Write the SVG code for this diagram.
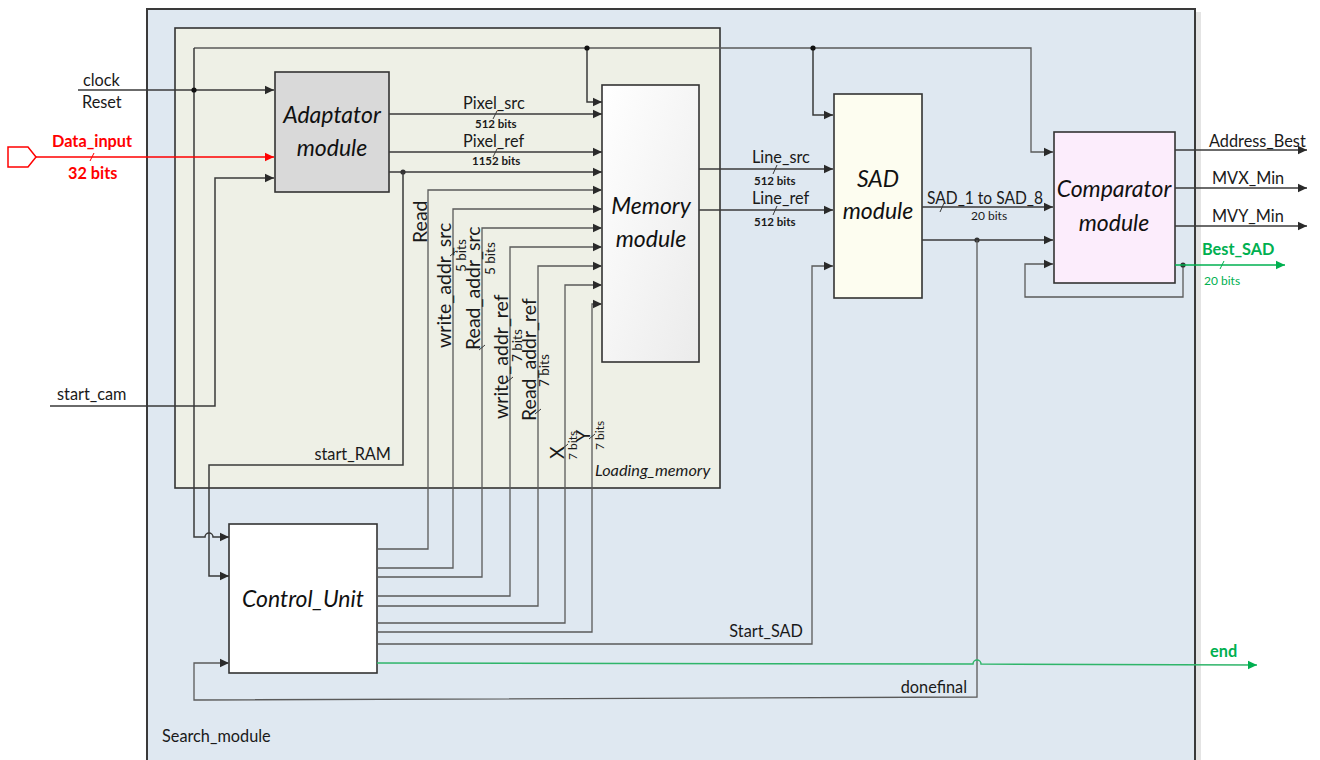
<svg xmlns="http://www.w3.org/2000/svg" width="1320" height="760" viewBox="0 0 1320 760">
<style>
.ln{stroke:#3a3a3a;stroke-width:1.5;fill:none}
.cl{stroke:#5a5a5a;stroke-width:1.3;fill:none}
.tk{stroke:#3a3a3a;stroke-width:1;fill:none}
.box{stroke:#333;stroke-width:1.6}
.t{font-family:Lato,"Liberation Sans",sans-serif;font-size:16.3px;fill:#1a1a1a}
.m{font-family:Lato,"Liberation Sans",sans-serif;font-size:23px;font-style:italic;fill:#111;text-anchor:middle}
.sb{font-family:Lato,"Liberation Sans",sans-serif;font-size:11.5px;font-weight:bold;fill:#1a1a1a}
.sm{font-family:Lato,"Liberation Sans",sans-serif;font-size:12px;fill:#1a1a1a}
.sr{font-family:Lato,"Liberation Sans",sans-serif;font-size:13.5px;fill:#1a1a1a}
.r{font-family:Lato,"Liberation Sans",sans-serif;font-size:19.5px;fill:#1a1a1a}
.red{fill:#ff0000;font-weight:bold}
.grn{fill:#00b050}
</style>
<defs>
<marker id="a" markerUnits="userSpaceOnUse" markerWidth="10" markerHeight="10" refX="9" refY="5" orient="auto"><path d="M0,0.8 L9,5 L0,9.2 z" fill="#2a2a2a"/></marker>
<marker id="ar" markerUnits="userSpaceOnUse" markerWidth="10" markerHeight="10" refX="9" refY="5" orient="auto"><path d="M0,0.8 L9,5 L0,9.2 z" fill="#ff0000"/></marker>
<marker id="ag" markerUnits="userSpaceOnUse" markerWidth="10" markerHeight="10" refX="9" refY="5" orient="auto"><path d="M0,0.8 L9,5 L0,9.2 z" fill="#00b050"/></marker>
<linearGradient id="mg" x1="0" y1="0" x2="1" y2="1"><stop offset="0" stop-color="#ffffff"/><stop offset="1" stop-color="#ebebeb"/></linearGradient>
</defs>
<rect width="1320" height="760" fill="#ffffff"/>
<g id="search_module">
<rect x="1196" y="12" width="5" height="760" fill="#e4e4e4"/>
<rect x="147" y="9" width="1048" height="760" fill="#dfe8f1" stroke="#3a3a3a" stroke-width="2"/>
<text class="t" x="162" y="742">Search_module</text>
</g>
<g id="loading_memory">
<rect x="175" y="28" width="545" height="460" fill="#eef0e6" stroke="#333" stroke-width="1.6"/>
<text class="t" x="595" y="476" font-style="italic">Loading_memory</text>
</g>
<g id="adaptator">
<rect class="box" x="275" y="72" width="114" height="120" fill="#d9d9d9"/>
<text class="m" x="332" y="123">Adaptator</text>
<text class="m" x="332" y="156">module</text>
</g>
<g id="memory">
<rect class="box" x="602" y="85" width="97" height="277" fill="url(#mg)"/>
<text class="m" x="651" y="214">Memory</text>
<text class="m" x="651" y="247">module</text>
</g>
<g id="sad">
<rect class="box" x="834" y="94" width="88" height="204" fill="#fdfdf0"/>
<text class="m" x="878" y="187">SAD</text>
<text class="m" x="878" y="219">module</text>
</g>
<g id="comparator">
<rect class="box" x="1054" y="132" width="121" height="151" fill="#fcedfc"/>
<text class="m" x="1114" y="197">Comparator</text>
<text class="m" x="1114" y="231">module</text>
</g>
<g id="control_unit">
<rect class="box" x="229" y="524" width="148" height="149" fill="#ffffff"/>
<text class="m" x="303" y="607" font-size="24">Control_Unit</text>
</g>
<g id="connectors">
<path class="ln" d="M78,90 H274" marker-end="url(#a)"/>
<path class="cl" d="M194,48 H1031 V152 H1053" marker-end="url(#a)"/>
<path class="ln" d="M194,48 V537 H205 A4,4 0 0 1 213,537 H229" marker-end="url(#a)"/>
<path class="ln" d="M587,48 V102 H602" marker-end="url(#a)"/>
<path class="ln" d="M813,48 V115 H833" marker-end="url(#a)"/>
<circle cx="194" cy="90" r="2.6" fill="#111"/>
<circle cx="587" cy="48" r="2.6" fill="#111"/>
<circle cx="813" cy="48" r="2.6" fill="#111"/>
<polygon points="8,147 28,147 36,157 28,167 8,167" fill="#ffffff" stroke="#ff0000" stroke-width="1.5"/>
<path d="M36,157 H274" stroke="#ff0000" stroke-width="1.5" fill="none" marker-end="url(#ar)"/>
<path d="M90,161 L94,153" stroke="#ff0000" stroke-width="1"/>
<path class="ln" d="M50,406 H215 V178 H274" marker-end="url(#a)"/>
<path class="ln" d="M389,114 H602" marker-end="url(#a)"/>
<path class="ln" d="M389,152 H602" marker-end="url(#a)"/>
<path class="ln" d="M389,172 H602" marker-end="url(#a)"/>
<circle cx="403" cy="172" r="2.6" fill="#333"/>
<path class="ln" d="M403,172 V465 H209 V576 H229" marker-end="url(#a)"/>
<path class="tk" d="M493,119 L497,111"/>
<path class="tk" d="M493,157 L497,149"/>
<path class="cl" d="M377,549 H428 V190 H602" marker-end="url(#a)"/>
<path class="cl" d="M377,568 H453 V209 H602" marker-end="url(#a)"/>
<path class="cl" d="M377,577 H482 V228 H602" marker-end="url(#a)"/>
<path class="cl" d="M377,596 H510 V247 H602" marker-end="url(#a)"/>
<path class="cl" d="M377,606 H538 V266 H602" marker-end="url(#a)"/>
<path class="cl" d="M377,623 H565 V285 H602" marker-end="url(#a)"/>
<path class="cl" d="M377,632 H592 V304 H602" marker-end="url(#a)"/>
<path class="tk" d="M450,256 L456,251"/>
<path class="tk" d="M479,350 L485,345"/>
<path class="tk" d="M507,382 L513,377"/>
<path class="tk" d="M535,414 L541,409"/>
<path class="tk" d="M562,449 L568,444"/>
<path class="tk" d="M589,439 L595,434"/>
<path class="cl" d="M377,644 H812 V266 H833" marker-end="url(#a)"/>
<path class="ln" d="M699,169 H833" marker-end="url(#a)"/>
<path class="ln" d="M699,210 H833" marker-end="url(#a)"/>
<path class="tk" d="M773,174 L777,165"/>
<path class="tk" d="M773,215 L777,206"/>
<path class="ln" d="M922,207 H1053" marker-end="url(#a)"/>
<path class="tk" d="M940,212 L944,203"/>
<path class="ln" d="M922,240 H1053" marker-end="url(#a)"/>
<circle cx="977" cy="240" r="2.6" fill="#333"/>
<path class="cl" d="M977,240 V697 L194,700 V663 H229" marker-end="url(#a)"/>
<path class="cl" d="M1183,265 V297 H1025 V264 H1053" marker-end="url(#a)"/>
<circle cx="1183" cy="265" r="2.6" fill="#333"/>
<path class="ln" d="M1175,150 H1307" marker-end="url(#a)"/>
<path class="ln" d="M1175,188 H1307" marker-end="url(#a)"/>
<path class="ln" d="M1175,226 H1307" marker-end="url(#a)"/>
<path d="M1175,265 H1285" stroke="#00b050" stroke-width="1.5" fill="none" marker-end="url(#ag)"/>
<path d="M1220,269 L1224,261" stroke="#00b050" stroke-width="1"/>
<path d="M377,663 L973,664 A4,4 0 0 1 981,664 L1257,665" stroke="#2fb56a" stroke-width="1.5" fill="none" marker-end="url(#ag)"/>
</g>
<g id="labels">
<text class="t" x="83" y="86">clock</text>
<text class="t" x="82" y="108">Reset</text>
<text class="t red" x="52" y="147">Data_input</text>
<text class="t red" x="68" y="179">32 bits</text>
<text class="t" x="57" y="400">start_cam</text>
<text class="t" x="463" y="109">Pixel_src</text>
<text class="sb" x="475" y="128">512 bits</text>
<text class="t" x="463" y="147">Pixel_ref</text>
<text class="sb" x="472" y="165">1152 bits</text>
<text class="t" x="391" y="460" text-anchor="end">start_RAM</text>
<text class="t" x="803" y="637" text-anchor="end">Start_SAD</text>
<text class="t" x="967" y="693" text-anchor="end">donefinal</text>
<text class="t" x="752" y="163">Line_src</text>
<text class="sb" x="754" y="185">512 bits</text>
<text class="t" x="752" y="204">Line_ref</text>
<text class="sb" x="754" y="226">512 bits</text>
<text class="t" x="927" y="204" textLength="116" lengthAdjust="spacingAndGlyphs">SAD_1 to SAD_8</text>
<text class="sm" x="971" y="220">20 bits</text>
<text class="t" x="1209" y="147">Address_Best</text>
<text class="t" x="1212" y="184">MVX_Min</text>
<text class="t" x="1212" y="222">MVY_Min</text>
<text class="t grn" x="1202" y="255" font-weight="bold">Best_SAD</text>
<text class="sm grn" x="1204" y="285">20 bits</text>
<text class="t grn" x="1210" y="657" font-weight="bold">end</text>
<text class="r" transform="translate(427,243) rotate(-90)">Read</text>
<text class="r" transform="translate(451,348) rotate(-90)">write_addr_src</text>
<text class="sr" transform="translate(466,272) rotate(-90)">5 bits</text>
<text class="r" transform="translate(480,350) rotate(-90)">Read_addr_src</text>
<text class="sr" transform="translate(495,275) rotate(-90)">5 bits</text>
<text class="r" transform="translate(508,419) rotate(-90)">write_addr_ref</text>
<text class="sr" transform="translate(522,362) rotate(-90)">7 bits</text>
<text class="r" transform="translate(536,421) rotate(-90)">Read_addr_ref</text>
<text class="sr" transform="translate(549,387) rotate(-90)">7 bits</text>
<text class="r" transform="translate(564,459) rotate(-90)" font-size="17">X</text>
<text class="sm" transform="translate(577,460) rotate(-90)">7 bits</text>
<text class="r" transform="translate(590,442) rotate(-90)" font-size="17">Y</text>
<text class="sm" transform="translate(604,450) rotate(-90)">7 bits</text>
</g>
</svg>
